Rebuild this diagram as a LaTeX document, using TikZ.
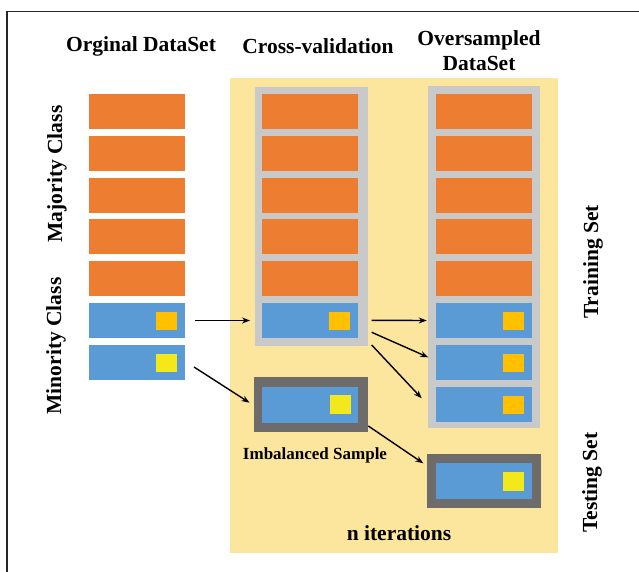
\documentclass[tikz,border=0pt]{standalone}
\usepackage{fontspec}
\setmainfont{Liberation Serif}
\usetikzlibrary{arrows.meta}
\definecolor{maj}{HTML}{ED7D31}
\definecolor{mino}{HTML}{5B9BD5}
\definecolor{bgy}{HTML}{FCE59C}
\definecolor{lgray}{HTML}{C9C9C9}
\definecolor{dgray}{HTML}{6E6B6B}
\definecolor{amber}{HTML}{FFC000}
\definecolor{yel}{HTML}{F3E81C}
\tikzset{
  majbox/.style={fill=maj, minimum width=96pt, minimum height=35pt, inner sep=0pt, draw=none},
  minbox/.style={fill=mino, minimum width=96pt, minimum height=35pt, inner sep=0pt, draw=none},
  sq/.style={minimum width=21pt, minimum height=18pt, inner sep=0pt, draw=none},
  frameL/.style={fill=lgray, inner sep=0pt, draw=none},
  frameD/.style={fill=dgray, inner sep=0pt, draw=none},
  lbl/.style={font=\bfseries\fontsize{21.5}{25}\selectfont, inner sep=0pt, align=center},
  lbls/.style={font=\bfseries\fontsize{17}{20}\selectfont, inner sep=0pt},
  arr/.style={-{Stealth[length=8pt,width=6pt]}, line width=1.4pt, black}
}
\begin{document}
\begin{tikzpicture}[x=1pt,y=-1pt]
\useasboundingbox (0,0) rectangle (639,572);
\fill[white] (0,0) rectangle (639,572);
% outer frame lines
\draw[line width=1.2pt, black!85] (7,572) -- (7,11.5) -- (639,11.5);
% yellow background
\node[fill=bgy, inner sep=0pt, minimum width=328pt, minimum height=475pt] (bg) at (394,315.5) {};
% frames
\node[frameL, minimum width=113pt, minimum height=259pt] (cvf) at (311,216.4) {};
\node[frameL, minimum width=112pt, minimum height=342pt] (ovf) at (484.2,257) {};
\node[frameD, minimum width=114pt, minimum height=54.5pt] (imf) at (310.6,404.5) {};
\node[frameD, minimum width=113.5pt, minimum height=53.5pt] (tsf) at (484,481) {};
% original dataset, cross-validation and oversampled majority rows
\foreach \i in {0,...,4}{
  \node[majbox] (o\i) at (137,{111.5+41.8*\i}) {};
  \node[majbox] (c\i) at (310.3,{111.5+41.8*\i}) {};
  \node[majbox] (v\i) at (484.2,{111.5+41.8*\i}) {};
}
\node[minbox] (ob1) at (137,320.5) {};
\node[minbox] (ob2) at (137,362.3) {};
\node[sq, fill=amber] (obs1) at (166.5,321) {};
\node[sq, fill=yel] (obs2) at (166.5,362.8) {};
% cross-validation
\node[minbox] (cb) at (310.3,320.8) {};
\node[sq, fill=amber] (cbs) at (339.8,321.3) {};
% oversampled
\node[minbox] (vb1) at (484.2,320.5) {};
\node[minbox] (vb2) at (484.2,362.3) {};
\node[minbox] (vb3) at (484.2,404.1) {};
\node[sq, fill=amber] (vbs1) at (513.7,321) {};
\node[sq, fill=amber] (vbs2) at (513.7,362.8) {};
\node[sq, fill=amber] (vbs3) at (513.7,404.6) {};
% imbalanced sample
\node[minbox, minimum height=36pt] (ib) at (310.3,404.7) {};
\node[sq, fill=yel, minimum height=19pt] (ibs) at (340,404.5) {};
% testing
\node[minbox, minimum height=36pt] (tb) at (484.2,481.2) {};
\node[sq, fill=yel, minimum height=19pt] (tbs) at (513.5,481.3) {};
% labels
\node[lbl] (t1) at (141,46) {Orginal DataSet};
\node[lbl] (t2) at (318,46) {Cross-validation};
\node[lbl] (t3) at (479,50.5) {Oversampled\\DataSet};
\node[lbl, rotate=90] (lmaj) at (57,174) {Majority Class};
\node[lbl, rotate=90] (lmin) at (56,346) {Minority Class};
\node[lbl, rotate=90] (ltr) at (593,262) {Training Set};
\node[lbl, rotate=90] (lts) at (592,482.5) {Testing Set};
\node[lbls] (lim) at (315,455) {Imbalanced Sample};
\node[lbl] (lit) at (399,533) {n iterations};
% arrows
\coordinate (a1s) at (195,320.5);
\coordinate (a2s) at (194,367);
\coordinate (a3s) at (371.7,320.3);
\coordinate (a4s) at (371.7,332.3);
\coordinate (a5s) at (371.7,345);
\coordinate (a6s) at (368.3,426);
\coordinate (a1e) at (250,320.5);
\coordinate (a2e) at (249.5,402.7);
\coordinate (a3e) at (426.7,320.5);
\coordinate (a4e) at (428.3,357.3);
\coordinate (a5e) at (421.7,398.3);
\coordinate (a6e) at (423.3,463.3);
\draw[arr] (a1s) -- (a1e);
\draw[arr] (a2s) -- (a2e);
\draw[arr] (a3s) -- (a3e);
\draw[arr] (a4s) -- (a4e);
\draw[arr] (a5s) -- (a5e);
\draw[arr] (a6s) -- (a6e);
\end{tikzpicture}
\end{document}
